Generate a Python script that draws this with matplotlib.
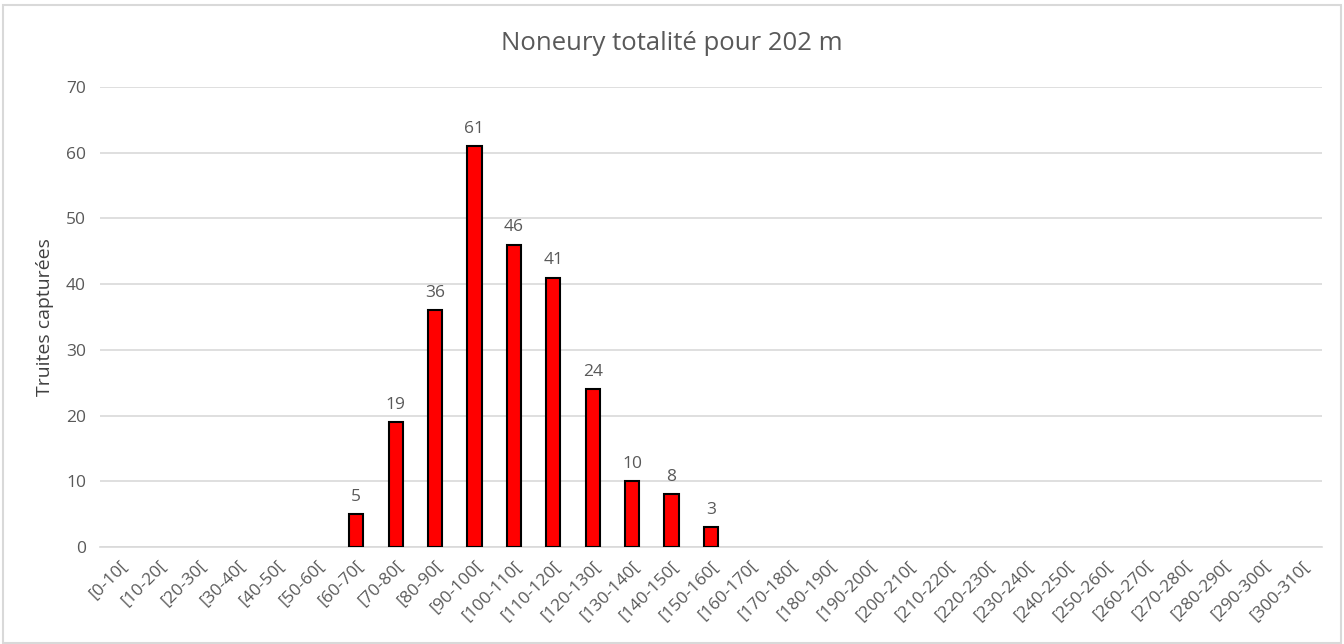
import matplotlib.pyplot as plt
from matplotlib.patches import Rectangle

categories = ['[%d-%d[' % (i, i + 10) for i in range(0, 310, 10)]
counts = [0, 0, 0, 0, 0, 0, 5, 19, 36, 61, 46, 41, 24, 10, 8, 3] + [0] * 15

plt.rcParams['font.family'] = ['Open Sans', 'DejaVu Sans']
fig = plt.figure(figsize=(13.44, 6.44), dpi=100)
ax = fig.add_axes([0.0744, 0.1506, 0.9092, 0.7144])

x = list(range(len(categories)))
nz = [(xi, v) for xi, v in zip(x, counts) if v > 0]
ax.bar([p[0] for p in nz], [p[1] for p in nz], width=0.36, color='#ff0000',
       edgecolor='black', linewidth=1.5, zorder=3)
for xi, v in nz:
    ax.text(xi, v + 1.4, str(v), ha='center', va='bottom', fontsize=12.5, color='#595959')

ax.set_xlim(-0.5, len(categories) - 0.5)
ax.set_ylim(0, 70)
ax.set_yticks(range(0, 71, 10))
ax.set_xticks(x)
ax.set_xticklabels(categories, rotation=45, ha='right', rotation_mode='anchor')
ax.tick_params(axis='both', length=0, colors='#595959', labelsize=12.5)
ax.tick_params(axis='y', pad=10)
ax.tick_params(axis='x', pad=8)
ax.grid(axis='y', color='#d9d9d9', linewidth=1.2, zorder=0)
for s in ['top', 'right', 'left']:
    ax.spines[s].set_visible(False)
ax.spines['bottom'].set_color('#d9d9d9')
ax.spines['bottom'].set_linewidth(1.2)

ax.set_ylabel('Truites capturées', fontsize=14, color='#404040')
ax.yaxis.set_label_coords(-0.038, 0.5)
fig.text(0.5, 0.932, 'Noneury totalité pour 202 m', ha='center', va='center', fontsize=18.5, color='#595959')

fig.patches.append(Rectangle((0.002, 0.002), 0.996, 0.99, transform=fig.transFigure,
                             fill=False, edgecolor='#d9d9d9', linewidth=1.5))

plt.savefig('out.png', dpi=100)
